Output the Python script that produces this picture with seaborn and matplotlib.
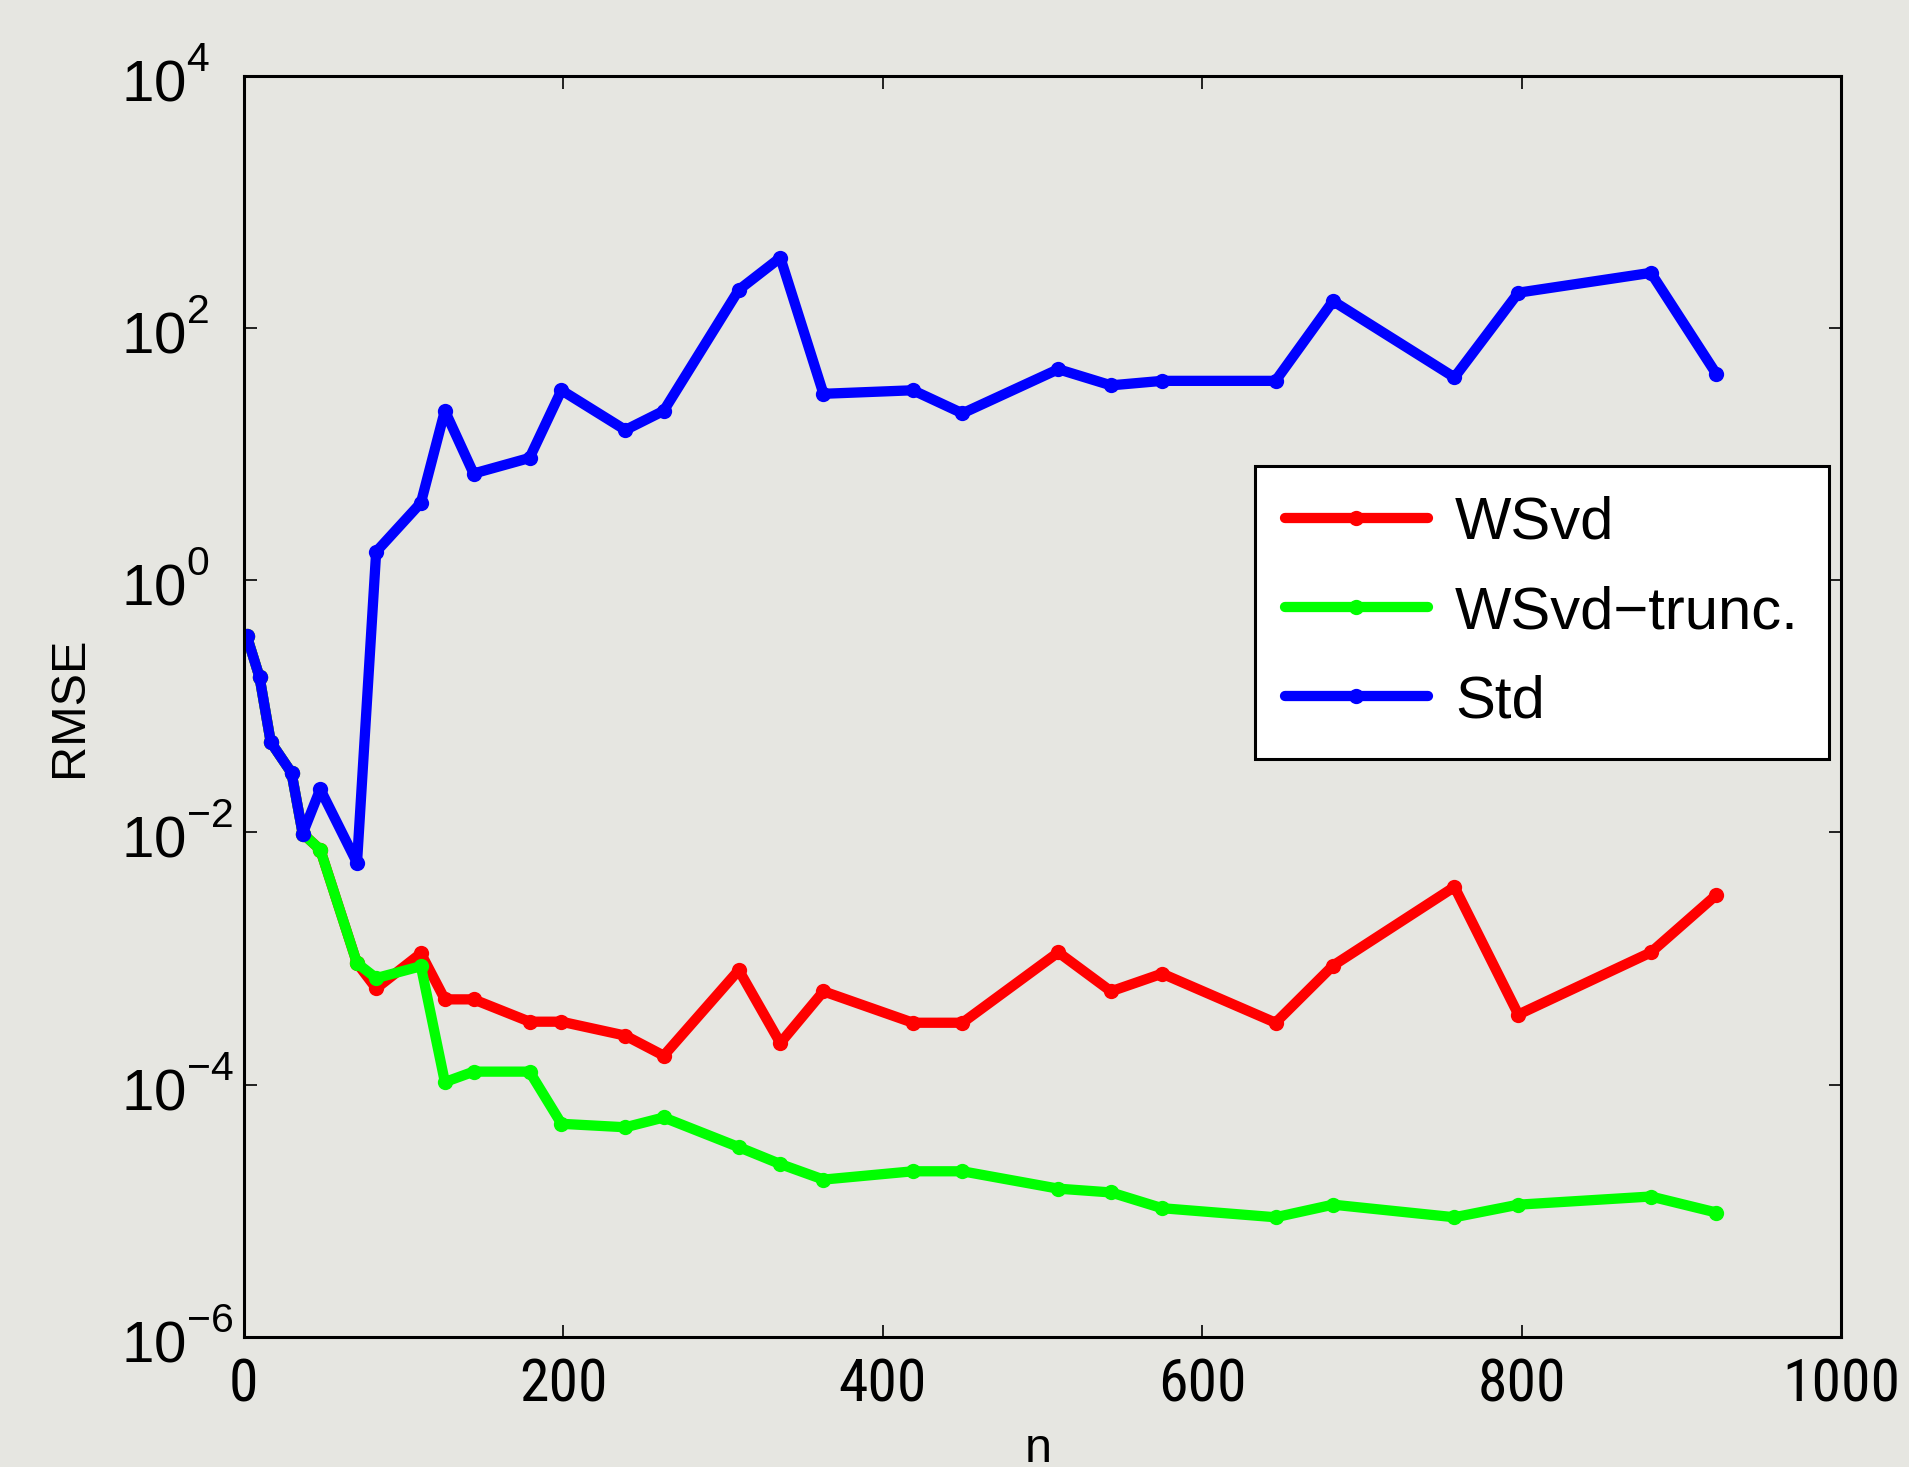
import numpy as np
import pandas as pd
import matplotlib
matplotlib.use("Agg")
import matplotlib.pyplot as plt
import seaborn as sns
from matplotlib import font_manager
from matplotlib.font_manager import FontProperties
from matplotlib.textpath import TextPath
from matplotlib.ticker import FixedLocator, FuncFormatter, NullLocator

# ---------------- data ----------------
n_vals = [2, 10, 17, 30, 37, 48, 71, 83, 111, 126, 144, 179, 199, 239, 263,
          310, 336, 363, 419, 450, 510, 543, 575, 646, 682, 758, 798, 881, 922]

std_vals = [0.36, 0.17, 0.052, 0.0297, 0.0098, 0.022, 0.00575, 1.68, 4.1, 22,
            7.0, 9.3, 32, 15.5, 22, 200, 360, 30, 32, 21, 47, 35, 38, 38,
            163, 40.5, 190, 273, 43]

wsvd_vals = [0.36, 0.17, 0.052, 0.0297, 0.0098, 0.0073, 0.00092, 0.00058,
             0.0011, 0.000475, 0.000475, 0.000316, 0.000316, 0.000245,
             0.00017, 0.00081, 0.000214, 0.00055, 0.00031, 0.00031, 0.00112,
             0.00055, 0.00076, 0.00031, 0.00088, 0.0037, 0.00036, 0.00112,
             0.0032]

trunc_vals = [0.36, 0.17, 0.052, 0.0297, 0.0098, 0.0073, 0.00092, 0.0007,
              0.00087, 0.000105, 0.000127, 0.000127, 4.9e-5, 4.6e-5, 5.5e-5,
              3.2e-5, 2.35e-5, 1.77e-5, 2.06e-5, 2.06e-5, 1.5e-5, 1.4e-5,
              1.05e-5, 8.9e-6, 1.12e-5, 8.9e-6, 1.12e-5, 1.3e-5, 9.7e-6]

series_names = ["WSvd", "WSvd\u2212trunc.", "Std"]
series_colors = ["#FF0000", "#00FF00", "#0000FF"]

x_ticks = [0, 200, 400, 600, 800, 1000]
y_tick_exps = [-6, -4, -2, 0, 2, 4]

# ---------------- style ----------------
bg = "#E6E6E1"
sns.set_style("ticks")
plt.rcParams["font.family"] = ["Liberation Sans", "DejaVu Sans"]
plt.rcParams["mathtext.fontset"] = "custom"
plt.rcParams["mathtext.rm"] = "Liberation Sans"
plt.rcParams["mathtext.it"] = "Liberation Sans:italic"
plt.rcParams["mathtext.bf"] = "Liberation Sans:bold"
for k in ["text.color", "axes.labelcolor", "xtick.color", "ytick.color",
          "axes.edgecolor"]:
    plt.rcParams[k] = "black"

# raise superscripts a little (MATLAB-like exponent placement)
try:
    from matplotlib import _mathtext as _mt
    _mt.FontConstantsBase.sup1 = 1.0
    _mt.FontConstantsBase.subdrop = 0.05
except Exception:
    pass

# The reference x tick labels are drawn in a narrow face: pick the installed
# regular-weight sans face whose "600" has the closest width/height ratio.
TARGET_RATIO = 52.0 / 43.0
allowed = {"Liberation Sans", "Liberation Sans Narrow", "Noto Sans",
           "Open Sans", "Open Sans Condensed", "Roboto", "Roboto Condensed",
           "Lato", "Inter", "DejaVu Sans", "Noto Sans Display"}
best = None
for f in font_manager.fontManager.ttflist:
    if f.name not in allowed or f.style != "normal":
        continue
    try:
        w = int(f.weight)
    except Exception:
        w = 400 if str(f.weight) in ("normal", "regular", "book") else 700
    if not (350 <= w <= 450):
        continue
    try:
        ext = TextPath((0, 0), "600", size=100,
                       prop=FontProperties(fname=f.fname)).get_extents()
        ratio = ext.width / ext.height
    except Exception:
        continue
    score = abs(ratio - TARGET_RATIO)
    if best is None or score < best[0]:
        best = (score, f.fname)
xprop_fname = best[1] if best is not None else None

fig = plt.figure(figsize=(19.09, 14.67), dpi=100, facecolor=bg)
ax = fig.add_axes([0.1276, 0.0886, 0.9644 - 0.1276, 0.9485 - 0.0886])
ax.set_facecolor(bg)

df = pd.DataFrame({"n": n_vals, "WSvd": wsvd_vals, "trunc": trunc_vals, "Std": std_vals})
for col, name, c in zip(["WSvd", "trunc", "Std"], series_names, series_colors):
    sns.lineplot(data=df, x="n", y=col, ax=ax, color=c, linewidth=7.4,
                 marker="o", markersize=11, markeredgecolor=c,
                 markerfacecolor=c, markeredgewidth=0, label=name,
                 estimator=None, sort=False)

ax.set_yscale("log")
ax.set_xlim(0, 1000)
ax.set_ylim(1e-6, 1e4)

ax.xaxis.set_major_locator(FixedLocator(x_ticks))
ax.yaxis.set_major_locator(FixedLocator([10.0 ** e for e in y_tick_exps]))
ax.yaxis.set_minor_locator(NullLocator())
ax.xaxis.set_minor_locator(NullLocator())
ax.yaxis.set_major_formatter(FuncFormatter(
    lambda v, p: r"$\mathregular{10^{%d}}$" % int(round(np.log10(v)))))
ax.xaxis.set_major_formatter(FuncFormatter(lambda v, p: "%d" % v))

for s in ax.spines.values():
    s.set_visible(True)
    s.set_linewidth(2.2)
    s.set_color("black")

ax.tick_params(axis="both", which="major", direction="in", length=9, width=1.2,
               top=True, right=True, color="black")
ax.tick_params(axis="x", labelsize=42, pad=14)
# y labels: left-aligned so that the "10" bases line up, as in the reference
ax.tick_params(axis="y", labelsize=42, pad=88)
for lab in ax.get_yticklabels():
    lab.set_horizontalalignment("left")
if xprop_fname is not None:
    for lab in ax.get_xticklabels():
        lab.set_fontproperties(FontProperties(fname=xprop_fname, size=43))

ax.set_xlabel("n", fontsize=35)
ax.set_ylabel("RMSE", fontsize=35)
ax.xaxis.set_label_coords(0.4977, -0.0715)
ax.yaxis.set_label_coords(-0.095, 0.50)

leg = ax.legend(loc="upper left", bbox_to_anchor=(0.633, 0.6904),
                borderaxespad=0, fontsize=43, frameon=True, fancybox=False,
                handlelength=2.4, handletextpad=0.45, labelspacing=0.57,
                borderpad=0.5)
frame = leg.get_frame()
frame.set_edgecolor("black")
frame.set_linewidth(2.2)
frame.set_facecolor("white")
frame.set_alpha(1)
for t in leg.get_texts():
    t.set_color("black")

fig.savefig("out.png", dpi=100, facecolor=bg)
